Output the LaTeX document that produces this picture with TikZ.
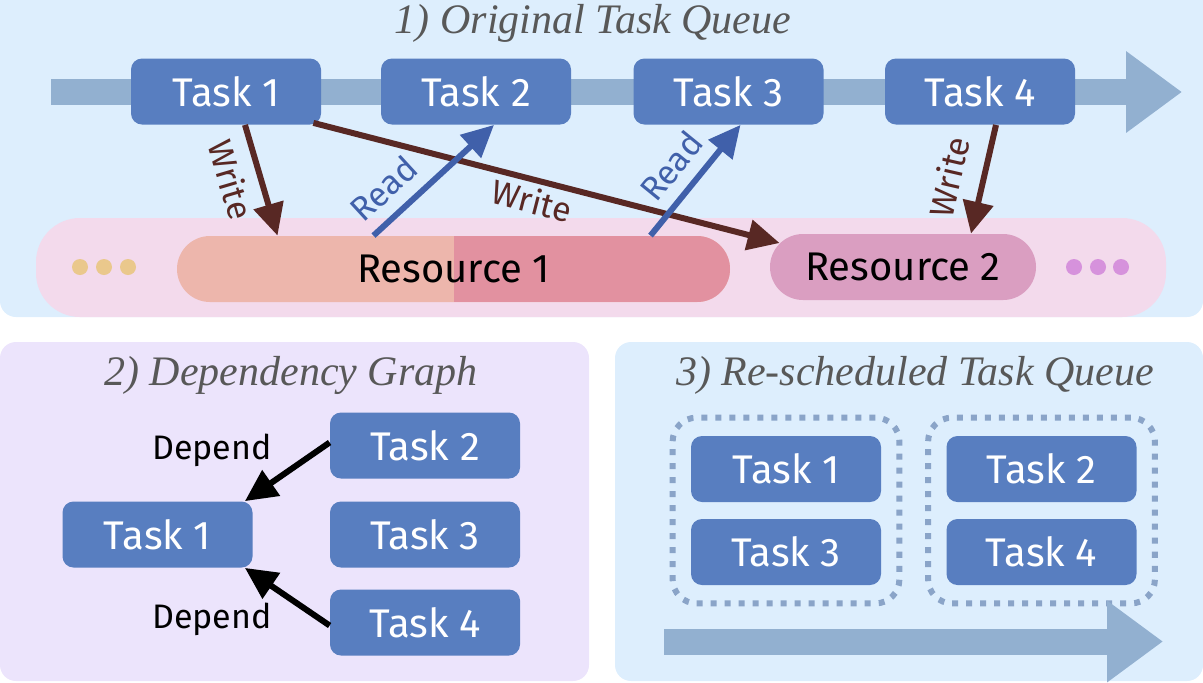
\documentclass[tikz,border=0pt]{standalone}
\usepackage{fontspec}
\setsansfont{Fira Sans}
\newfontfamily\titlefont{Liberation Serif}
\usetikzlibrary{arrows.meta,positioning,calc,fit}
\definecolor{panelblue}{RGB}{221,238,253}
\definecolor{panellilac}{RGB}{236,228,252}
\definecolor{bandpink}{RGB}{243,218,236}
\definecolor{taskblue}{RGB}{88,126,192}
\definecolor{queueblue}{RGB}{146,176,208}
\definecolor{resleft}{RGB}{237,182,172}
\definecolor{resright}{RGB}{226,145,160}
\definecolor{restwo}{RGB}{218,158,193}
\definecolor{writebrown}{RGB}{88,40,36}
\definecolor{readblue}{RGB}{64,96,170}
\definecolor{titlegray}{RGB}{88,88,88}
\definecolor{dotyellow}{RGB}{234,200,140}
\definecolor{dotpurple}{RGB}{214,146,220}
\definecolor{groupblue}{RGB}{138,164,200}

\begin{document}
\begin{tikzpicture}[x=0.5pt,y=-0.5pt,
	task/.style={rectangle, rounded corners=5.5pt, fill=taskblue, text=white, minimum width=95pt, minimum height=33pt, font=\sffamily\fontsize{20}{24}\selectfont},
	resource/.style={rectangle, rounded corners=16.5pt, minimum height=33pt, text=black, font=\sffamily\fontsize{20}{24}\selectfont},
	paneltitle/.style={text=titlegray, anchor=base, font=\titlefont\itshape\fontsize{21}{25}\selectfont},
	edgelabel/.style={font=\sffamily\fontsize{17}{20}\selectfont, inner sep=2pt},
	accesslabel/.style={font=\sffamily\fontsize{17}{20}\selectfont, inner sep=6pt},
	queuearrow/.style={draw=queueblue, line width=13pt, -{Triangle[length=28pt,width=39pt]}},
	writearrow/.style={draw=writebrown, line width=3pt, -{Triangle[length=16pt,width=15pt]}},
	readarrow/.style={draw=readblue, line width=3pt, -{Triangle[length=16pt,width=15pt]}},
	dependarrow/.style={draw=black, line width=3pt, -{Triangle[length=16pt,width=15pt]}},
	taskgroup/.style={draw=groupblue, line width=3pt, dash pattern=on 3pt off 4pt, rounded corners=12pt, inner sep=9pt}]
	\useasboundingbox (0,0) rectangle (1203,682);
	
	% Panels
	\fill[panelblue, rounded corners=8pt] (0,-20) rectangle (1203,317);
	\fill[panellilac, rounded corners=8pt] (0,342) rectangle (589,681);
	\fill[panelblue, rounded corners=8pt] (615,342) rectangle (1203,681);
	
	% 1) Original task queue
	\node[paneltitle] (title1) at (593,33) {1) Original Task Queue};
	\coordinate (qstart) at (51,92);
	\coordinate (qend) at (1182,92);
	\draw[queuearrow] (qstart) -- (qend);
	\node[task] (t1) at (226,91.5) {Task 1};
	\node[task] (t2) at (476,91.5) {Task 2};
	\node[task] (t3) at (728.5,91.5) {Task 3};
	\node[task] (t4) at (980,91.5) {Task 4};
	
	% Resources
	\fill[bandpink, rounded corners=22pt] (36,218) rectangle (1166,317);
	\fill[dotyellow] (80,267) circle (4pt);
	\fill[dotyellow] (104,267) circle (4pt);
	\fill[dotyellow] (128,267) circle (4pt);
	\fill[dotpurple] (1074,267) circle (4pt);
	\fill[dotpurple] (1098,267) circle (4pt);
	\fill[dotpurple] (1121,267) circle (4pt);
	\node[resource, minimum width=276.5pt, fill=resleft, path picture={\fill[resright, sharp corners] (path picture bounding box.north) rectangle (path picture bounding box.south east);}] (r1) at (453.5,269) {Resource 1};
	\node[resource, minimum width=133pt, fill=restwo] (r2) at (903,267) {Resource 2};
	
	% Read / write accesses
	\draw[writearrow] ($(t1.south)+(19,0)$) -- node[pos=0.42, sloped, below, accesslabel, text=writebrown] {Write} ($(r1.north)+(-176,0)$);
	\draw[writearrow] ($(t1.south east)+(-8,-2)$) -- node[pos=0.48, sloped, below, edgelabel, text=writebrown] {Write} ($(r2.west)+(10,-24)$);
	\draw[readarrow] ($(r1.north)+(-80,0)$) -- node[pos=0.24, sloped, above, accesslabel, text=readblue] {Read} ($(t2.south)+(18,0)$);
	\draw[readarrow] ($(r1.north)+(197,0)$) -- node[pos=0.47, sloped, above, accesslabel, text=readblue] {Read} ($(t3.south)+(12,0)$);
	\draw[writearrow] ($(t4.south)+(16,0)$) -- node[pos=0.55, sloped, above, accesslabel, inner sep=9pt, text=writebrown] {Write} ($(r2.north)+(68,0)$);
	
	% 2) Dependency graph
	\node[paneltitle] (title2) at (291,385) {2) Dependency Graph};
	\node[task] (d1) at (157.5,534.5) {Task 1};
	\node[task] (d2) at (425,445.5) {Task 2};
	\node[task] (d3) at (425,534.5) {Task 3};
	\node[task] (d4) at (425,622.5) {Task 4};
	\draw[dependarrow] ($(d2.west)+(0,-3)$) -- ($(d1.north east)+(-8,0)$);
	\draw[dependarrow] ($(d4.west)+(0,3)$) -- ($(d1.south east)+(-8,0)$);
	\node[edgelabel] (dep1) at (212,450) {Depend};
	\node[edgelabel] (dep2) at (212,619) {Depend};
	
	% 3) Re-scheduled task queue
	\node[paneltitle] (title3) at (915,385) {3) Re-scheduled Task Queue};
	\node[task] (s1) at (786,469) {Task 1};
	\node[task] (s3) at (786,552) {Task 3};
	\node[task] (s2) at (1041.5,469) {Task 2};
	\node[task] (s4) at (1041.5,552) {Task 4};
	\node[taskgroup, fit=(s1)(s3)] (g1) {};
	\node[taskgroup, fit=(s2)(s4)] (g2) {};
	\coordinate (sstart) at (664,641.5);
	\coordinate (send) at (1163,641.5);
	\draw[queuearrow] (sstart) -- (send);
\end{tikzpicture}
\end{document}
